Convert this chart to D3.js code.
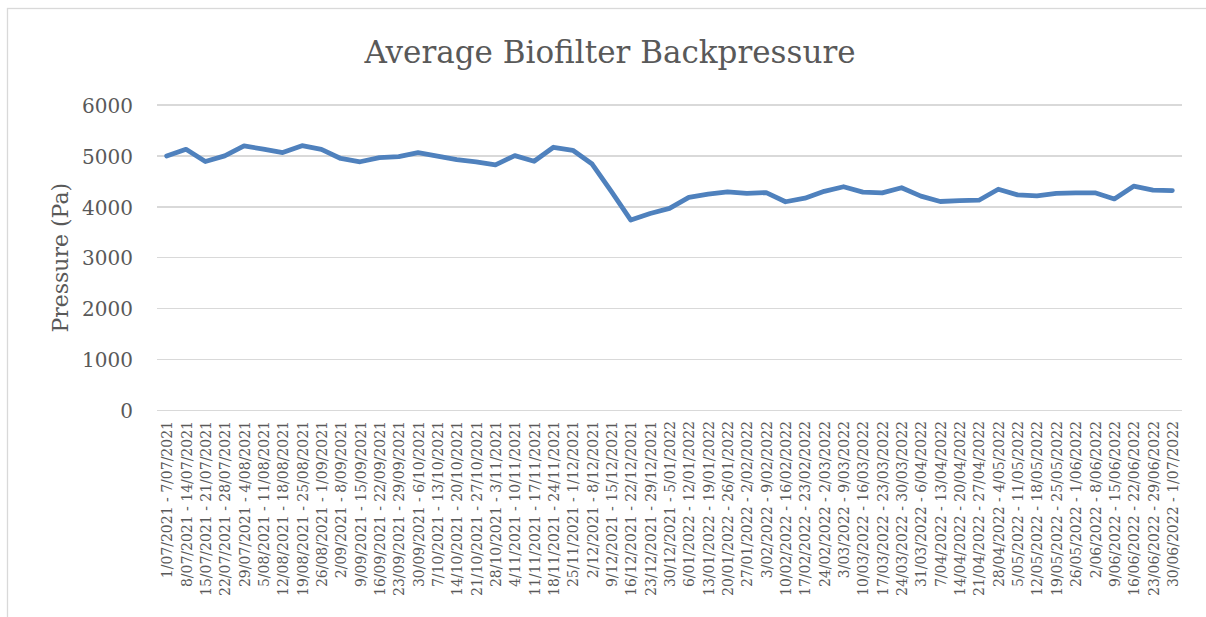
<!DOCTYPE html>
<meta charset="utf-8">
<head>
    <title>Average Biofilter Backpressure</title>
</head>
<style>
	body {
	  margin: 0;
	  background: #fff;
	}
	.grid line {
	  stroke: #d9d9d9;
	  stroke-width: 1.4px;
	  shape-rendering: crispEdges;
	}
	.ylab text, .xlab text {
	  fill: #595959;
	  font-family: "DejaVu Serif";
	}
	.line {
	  fill: none;
	  stroke: #4f81bd;
	  stroke-width: 4.8px;
	  stroke-linejoin: round;
	  stroke-linecap: round;
	}
</style>
<body>
<script src="https://cdn.jsdelivr.net/npm/d3@7"></script>
<script>
// weekly periods
var weeks = [
  "1/07/2021 - 7/07/2021", "8/07/2021 - 14/07/2021", "15/07/2021 - 21/07/2021",
  "22/07/2021 - 28/07/2021", "29/07/2021 - 4/08/2021", "5/08/2021 - 11/08/2021",
  "12/08/2021 - 18/08/2021", "19/08/2021 - 25/08/2021", "26/08/2021 - 1/09/2021",
  "2/09/2021 - 8/09/2021", "9/09/2021 - 15/09/2021", "16/09/2021 - 22/09/2021",
  "23/09/2021 - 29/09/2021", "30/09/2021 - 6/10/2021", "7/10/2021 - 13/10/2021",
  "14/10/2021 - 20/10/2021", "21/10/2021 - 27/10/2021", "28/10/2021 - 3/11/2021",
  "4/11/2021 - 10/11/2021", "11/11/2021 - 17/11/2021", "18/11/2021 - 24/11/2021",
  "25/11/2021 - 1/12/2021", "2/12/2021 - 8/12/2021", "9/12/2021 - 15/12/2021",
  "16/12/2021 - 22/12/2021", "23/12/2021 - 29/12/2021", "30/12/2021 - 5/01/2022",
  "6/01/2022 - 12/01/2022", "13/01/2022 - 19/01/2022", "20/01/2022 - 26/01/2022",
  "27/01/2022 - 2/02/2022", "3/02/2022 - 9/02/2022", "10/02/2022 - 16/02/2022",
  "17/02/2022 - 23/02/2022", "24/02/2022 - 2/03/2022", "3/03/2022 - 9/03/2022",
  "10/03/2022 - 16/03/2022", "17/03/2022 - 23/03/2022", "24/03/2022 - 30/03/2022",
  "31/03/2022 - 6/04/2022", "7/04/2022 - 13/04/2022", "14/04/2022 - 20/04/2022",
  "21/04/2022 - 27/04/2022", "28/04/2022 - 4/05/2022", "5/05/2022 - 11/05/2022",
  "12/05/2022 - 18/05/2022", "19/05/2022 - 25/05/2022", "26/05/2022 - 1/06/2022",
  "2/06/2022 - 8/06/2022", "9/06/2022 - 15/06/2022", "16/06/2022 - 22/06/2022",
  "23/06/2022 - 29/06/2022", "30/06/2022 - 1/07/2022"
];

// average backpressure (Pa)
var pressure = [
  5000, 5130, 4890, 5000, 5195, 5135, 5065, 5200, 5130,
  4950, 4885, 4965, 4985, 5065, 4995, 4925, 4885, 4825,
  5005, 4895, 5170, 5110, 4840, 4300, 3740, 3870, 3970,
  4185, 4250, 4295, 4265, 4280, 4100, 4170, 4305, 4395,
  4290, 4275, 4375, 4210, 4105, 4120, 4130, 4345, 4235,
  4215, 4265, 4275, 4275, 4155, 4405, 4330, 4320
];

var yTicks = [0, 1000, 2000, 3000, 4000, 5000, 6000];

var W = 1206, H = 617;
var plot = {left: 157, right: 1182, top: 105, bottom: 410.5};

var svg = d3.select("body").append("svg")
    .attr("width", W)
    .attr("height", H);

// outer chart border (only left/top are in view)
svg.append("rect")
    .attr("x", 7.5).attr("y", 8.5)
    .attr("width", 1300).attr("height", 700)
    .attr("fill", "none")
    .attr("stroke", "#d9d9d9")
    .attr("stroke-width", 1.3);

var x = d3.scalePoint()
    .domain(weeks)
    .range([plot.left, plot.right])
    .padding(0.5);

var y = d3.scaleLinear()
    .domain([0, 6000])
    .range([plot.bottom, plot.top]);

// gridlines
svg.append("g")
    .attr("class", "grid")
  .selectAll("line")
    .data(yTicks)
    .enter().append("line")
    .attr("x1", plot.left)
    .attr("x2", plot.right)
    .attr("y1", function(d) { return y(d); })
    .attr("y2", function(d) { return y(d); });

// y axis labels
var yAxis = d3.axisLeft(y).tickValues(yTicks).tickSize(0).tickPadding(0)
    .tickFormat(d3.format("d"));
svg.append("g")
    .attr("class", "ylab")
    .attr("transform", "translate(133,0)")
    .call(yAxis)
    .call(function(g) { g.select(".domain").remove(); })
    .selectAll("text")
    .style("font-size", "20px")
    .attr("dy", "0.36em");

// x axis labels, rotated
var xAxis = d3.axisBottom(x).tickSize(0).tickPadding(0);
svg.append("g")
    .attr("class", "xlab")
    .attr("transform", "translate(0,421)")
    .call(xAxis)
    .call(function(g) { g.select(".domain").remove(); })
    .selectAll("text")
    .style("font-size", "14px")
    .attr("text-anchor", "end")
    .attr("transform", "rotate(-90)")
    .attr("x", 0)
    .attr("y", 0)
    .attr("dy", "0.36em");

// line
var line = d3.line()
    .x(function(d, i) { return x(weeks[i]); })
    .y(function(d) { return y(d); });

svg.append("path")
    .datum(pressure)
    .attr("class", "line")
    .attr("d", line);

// title
svg.append("text")
    .attr("x", 610)
    .attr("y", 63)
    .attr("text-anchor", "middle")
    .style("font-family", "DejaVu Serif")
    .style("font-size", "31px")
    .style("fill", "#595959")
    .text("Average Biofilter Backpressure");

// y axis title
svg.append("text")
    .attr("transform", "translate(68," + ((plot.top + plot.bottom) / 2) + ") rotate(-90)")
    .attr("text-anchor", "middle")
    .style("font-family", "DejaVu Serif")
    .style("font-size", "22px")
    .style("fill", "#595959")
    .text("Pressure (Pa)");
</script>
</body>
